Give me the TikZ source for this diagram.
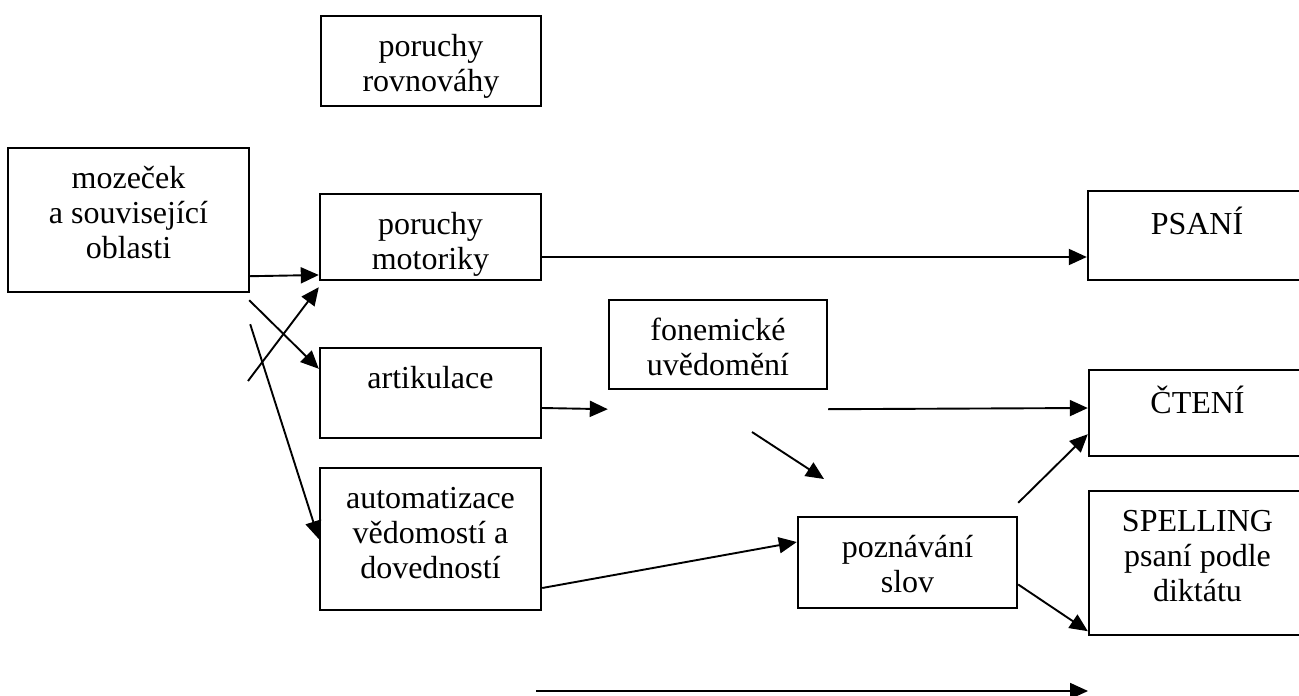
\documentclass[tikz,border=0pt]{standalone}
\usepackage{fontspec}
\setmainfont{Liberation Serif}
\usetikzlibrary{arrows.meta, positioning, fit}
\tikzset{
  box/.style={rectangle, draw=black, line width=1.2pt, inner sep=0pt},
  boxtxt/.style={anchor=north, align=center, inner sep=0pt, yshift=-8.5pt,
                 font=\fontsize{16pt}{17.5pt}\selectfont},
  arr/.style={draw=black, line width=0.95pt, -{Triangle[length=9pt, width=8pt]}},
}
\newcommand{\txtbox}[4]{%
  \node[box, fit={(#2) (#3)}] (#1) {};
  \node[boxtxt] (#1t) at (#1.north) {\strut #4};%
}

\begin{document}
\begin{tikzpicture}[x=0.5pt, y=-0.5pt]

\useasboundingbox (0,0) rectangle (1299,695);

\txtbox{rovn}{321,16}{541,106}{poruchy\\rovnováhy}
\txtbox{moz}{8,148}{249,292}{mozeček\\a související\\oblasti}
\txtbox{mot}{320,194}{541,280}{poruchy\\motoriky}
\txtbox{psani}{1088,191}{1306,280}{PSANÍ}
\txtbox{fon}{609,300}{827,389}{fonemické\\uvědomění}
\txtbox{art}{320,348}{541,438}{artikulace}
\txtbox{cteni}{1089,370}{1306,456}{ČTENÍ}
\txtbox{aut}{320,468}{541,610}{automatizace\\vědomostí a\\dovedností}
\txtbox{pozn}{798,517}{1017,608}{poznávání\\slov}
\txtbox{spell}{1089,491}{1306,635}{SPELLING\\psaní podle\\diktátu}

% free ends
\coordinate (motfree) at (248,381);
\coordinate (fonA) at (752,432);
\coordinate (fonB) at (824,479);
\coordinate (botA) at (536,691);
\coordinate (botB) at (1088,691);

\draw[arr] ([yshift=8.5pt]moz.south east) -- ([yshift=-19pt]mot.west);
\draw[arr] (motfree) -- ([yshift=-3pt]mot.south west);
\draw[arr] ([shift={(-0.5pt,-3.5pt)}]moz.south east) -- ([yshift=-11pt]art.north west);
\draw[arr] ([yshift=-15.5pt]moz.south east) -- (aut.west);

\draw[arr] ([yshift=-10pt]mot.east) -- ([yshift=-10.75pt]psani.west);
\draw[arr] ([yshift=-7.5pt]art.east) -- ([yshift=-9.5pt]fon.south west);
\draw[arr] ([yshift=-9.5pt]fon.south east) -- ([yshift=2.5pt]cteni.west);
\draw[arr] (fonA) -- (fonB);
\draw[arr] ([yshift=-24.5pt]aut.east) -- ([yshift=10.25pt]pozn.west);
\draw[arr] ([yshift=6.5pt]pozn.north east) -- ([yshift=11.5pt]cteni.south west);
\draw[arr] ([yshift=-11pt]pozn.east) -- ([yshift=2.5pt]spell.south west);
\draw[arr] (botA) -- (botB);

\end{tikzpicture}
\end{document}
